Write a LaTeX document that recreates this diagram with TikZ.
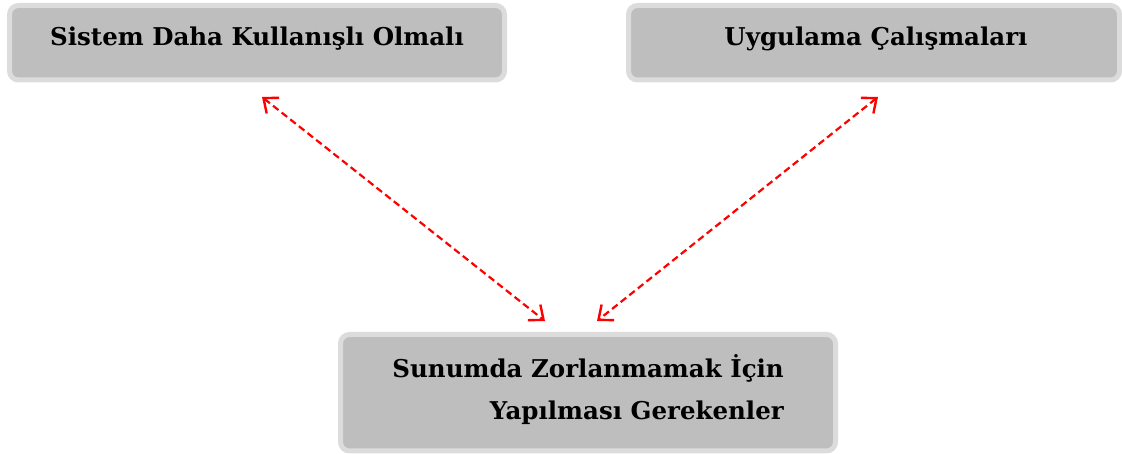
\documentclass[tikz,border=0pt]{standalone}
\usepackage{fontspec}
\setmainfont{DejaVu Serif}
\usetikzlibrary{arrows.meta}
\definecolor{boxfill}{RGB}{190,190,190}
\definecolor{boxline}{RGB}{220,220,220}
\definecolor{arrred}{RGB}{255,0,0}
\tikzset{
  graybox/.style={draw=boxline, fill=boxfill, line width=5pt, rounded corners=9pt},
  lbl/.style={font=\bfseries\fontsize{24.5}{42}\selectfont, inner sep=0pt},
  link/.style={arrred, line width=2.2pt, dash pattern=on 7pt off 4pt,
    {Straight Barb[length=12pt,width=20pt,line width=2.4pt]}-{Straight Barb[length=12pt,width=20pt,line width=2.4pt]}}
}
\begin{document}
\begin{tikzpicture}[x=1pt,y=1pt]
\useasboundingbox (0,0) rectangle (1122,454);
% boxes
\draw[graybox] (9.5,448.5) rectangle (504.5,374) ;
\draw[graybox] (628.5,448.5) rectangle (1119.5,374);
\draw[graybox] (340.5,119.5) rectangle (835.5,3);
% labels
\node[lbl, anchor=base] (b1) at (257,408) {Sistem Daha Kullanışlı Olmalı};
\node[lbl, anchor=base] (b2) at (876,408) {Uygulama Çalışmaları};
\node[lbl, align=right, anchor=base east] (b3) at (784,34) {Sunumda Zorlanmamak İçin\\Yapılması Gerekenler};
% connector ends
\coordinate (p1) at (262,357);
\coordinate (p2) at (545,133);
\coordinate (p3) at (878,357);
\coordinate (p4) at (597,133);
\draw[link] (p1) -- (p2);
\draw[link] (p3) -- (p4);
\end{tikzpicture}
\end{document}
